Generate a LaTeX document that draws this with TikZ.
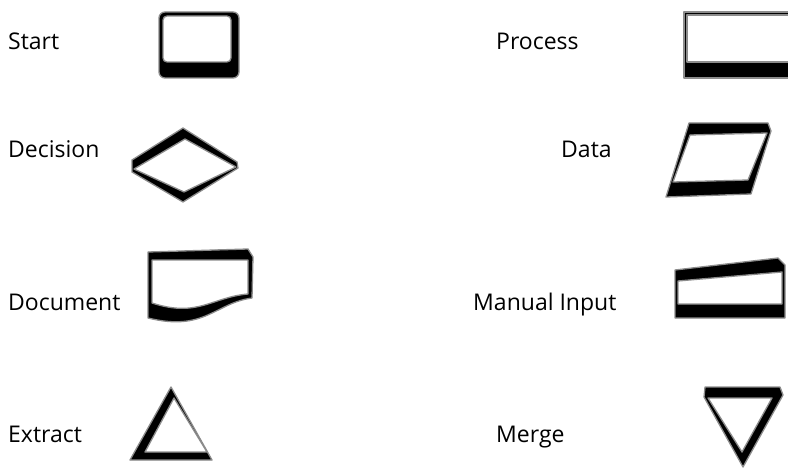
\documentclass[tikz,border=0pt]{standalone}
\usepackage{fontspec}
\setmainfont{Open Sans}
\usepackage{tikz}
\tikzstyle{band}=[fill=black,draw=black!45,line width=1.3pt,line join=round]
\tikzstyle{face}=[fill=white,draw=black!45,line width=1.3pt,line join=round]
\tikzstyle{symname}=[anchor=base west,inner sep=0pt,font=\fontsize{23}{27}\selectfont]

\begin{document}
\begin{tikzpicture}[x=1pt,y=-1pt]
        \useasboundingbox (0,0) rectangle (788,468);
        % names of the symbols
        \node[symname] (start) at (8,50) {Start};
        \node[symname] (decision) at (8,158) {Decision};
        \node[symname] (document) at (8,310) {Document};
        \node[symname] (extract) at (8,442) {Extract};
        \node[symname] (process) at (496,50) {Process};
        \node[symname] (data) at (561,158) {Data};
        \node[symname] (manual) at (473,310) {Manual Input};
        \node[symname] (merge) at (496,442) {Merge};
        % start
        \draw[band,rounded corners=6pt] (159,12) rectangle (239,78);
        \draw[face,rounded corners=4pt] (163,16) rectangle (231,62);
        % process
        \draw[band] (684,12) rectangle (792,78);
        \draw[face] (687,15) rectangle (792,62);
        % decision
        \draw[band] (132,160) -- (183,128) -- (237,162) -- (238,168) -- (183,202) -- (132,172) -- cycle;
        \draw[face] (134,169) -- (185,139) -- (236,167) -- (184,192) -- cycle;
        % data
        \draw[band] (689,123) -- (768,123) -- (771,131) -- (751,194) -- (666,197) -- cycle;
        \draw[face] (690,135) -- (767,133) -- (748,180) -- (673,182) -- cycle;
        % document
        \draw[band] (148,252) -- (248,249) -- (253,257) -- (252,298)
              .. controls (215,303) and (205,332) .. (148,318) -- cycle;
        \draw[face] (152,260) -- (248,260) -- (248,294)
              .. controls (212,297) and (198,318) .. (152,303) -- cycle;
        % manual input
        \draw[band] (675,270) -- (778,258) -- (785,265) -- (785,318) -- (675,318) -- cycle;
        \draw[face] (678,281) -- (782,272) -- (782,304) -- (678,304) -- cycle;
        % extract
        \draw[band] (171,387) -- (212,460) -- (130,460) -- cycle;
        \draw[face] (174,398) -- (207,452) -- (145,452) -- cycle;
        % merge
        \draw[band] (705,387) -- (780,387) -- (783,395) -- (743,467) -- (704,397) -- cycle;
        \draw[face] (708,398) -- (772,398) -- (742,452) -- cycle;
\end{tikzpicture}
\end{document}
